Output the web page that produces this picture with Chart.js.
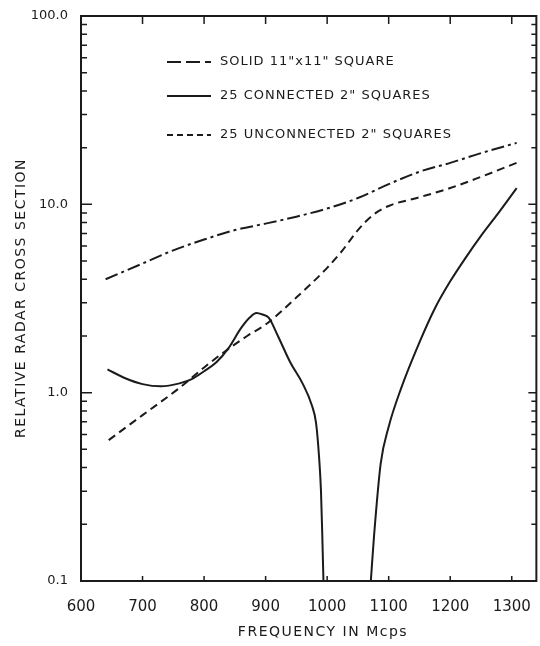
<!DOCTYPE html>
<html>
<head>
<meta charset="utf-8">
<script src="https://cdn.jsdelivr.net/npm/chart.js@4"></script>
<style>
  html, body { margin: 0; padding: 0; background: #fff; }
  #wrap { width: 540px; height: 646px; }
</style>
</head>
<body>
<div id="wrap"><canvas id="rcsChart" width="540" height="646"></canvas></div>
<script>
// frequency axis (Mcps) and log axis ticks
const xTicks = [600, 700, 800, 900, 1000, 1100, 1200, 1300];
const yTicks = [0.1, 1, 10, 100];
const yTickText = ['0.1', '1.0', '10.0', '100.0'];

// solid 11" x 11" square (dash-dot)
const solidFreq = [640, 700, 750, 800, 850, 900, 950, 1000, 1050, 1100, 1150, 1200, 1250, 1308];
const solidRcs  = [4.0, 4.85, 5.7, 6.5, 7.3, 7.9, 8.6, 9.5, 10.8, 12.8, 14.9, 16.6, 18.7, 21.2];

// 25 connected 2" squares (solid, two branches either side of the null)
const connFreqA = [643, 670, 700, 730, 760, 780, 800, 820, 840, 860, 875, 885, 895, 905, 920, 940, 960, 975, 982, 987, 990, 992, 994];
const connRcsA  = [1.33, 1.2, 1.11, 1.08, 1.12, 1.18, 1.3, 1.45, 1.73, 2.2, 2.52, 2.65, 2.6, 2.5, 2.0, 1.45, 1.12, 0.86, 0.69, 0.45, 0.3, 0.18, 0.1];
const connFreqB = [1071, 1076, 1087, 1100, 1120, 1150, 1175, 1200, 1225, 1250, 1275, 1308];
const connRcsB  = [0.1, 0.17, 0.42, 0.66, 1.05, 1.85, 2.8, 3.9, 5.2, 6.8, 8.7, 12.2];

// 25 unconnected 2" squares (dashed)
const unconFreq = [645, 700, 760, 800, 830, 870, 900, 950, 1000, 1025, 1050, 1075, 1100, 1150, 1200, 1250, 1308];
const unconRcs  = [0.56, 0.76, 1.06, 1.36, 1.62, 2.0, 2.3, 3.2, 4.6, 5.7, 7.3, 8.8, 9.8, 10.9, 12.2, 14.0, 16.6];

const ink = '#1b1b1b';
const dashDot = [13, 4, 3, 4];
const dashed = [8, 5];

function pts(xs, ys) {
    return xs.map((x, i) => ({ x: x, y: ys[i] }));
}

function lineSet(label, xs, ys, dash) {
    return {
        label: label,
        data: pts(xs, ys),
        borderColor: ink,
        borderWidth: 2,
        borderDash: dash,
        pointRadius: 0,
        cubicInterpolationMode: 'monotone',
        fill: false
    };
}

// frame, inward ticks, legend and axis titles
const decorations = {
    id: 'decorations',
    afterDraw(chart) {
        const { ctx, chartArea: a, scales: { x, y } } = chart;
        ctx.save();
        ctx.strokeStyle = ink;
        ctx.lineWidth = 2;
        ctx.strokeRect(a.left, a.top, a.right - a.left, a.bottom - a.top);

        ctx.lineWidth = 1.5;
        ctx.beginPath();
        xTicks.forEach(v => {
            if (v === x.min) return;
            const px = x.getPixelForValue(v);
            ctx.moveTo(px, a.bottom); ctx.lineTo(px, a.bottom - 5);
            ctx.moveTo(px, a.top); ctx.lineTo(px, a.top + 8);
        });
        [0.1, 1, 10].forEach(d => {
            for (let m = 1; m <= 9; m++) {
                if (d === 0.1 && m === 1) continue;
                const py = y.getPixelForValue(d * m);
                ctx.moveTo(a.left, py); ctx.lineTo(a.left + (m === 1 ? 11 : 6), py);
                ctx.moveTo(a.right, py); ctx.lineTo(a.right - (m === 1 ? 8 : 5), py);
            }
        });
        ctx.stroke();

        // legend
        const items = [
            { text: 'SOLID 11"x11" SQUARE', dash: [14, 5], dy: 46 },
            { text: '25 CONNECTED 2" SQUARES', dash: [], dy: 80 },
            { text: '25 UNCONNECTED 2" SQUARES', dash: [6, 4], dy: 119 }
        ];
        ctx.font = '13px "DejaVu Sans"';
        ctx.letterSpacing = '1px';
        ctx.fillStyle = ink;
        ctx.textBaseline = 'middle';
        ctx.textAlign = 'left';
        items.forEach(it => {
            const ly = a.top + it.dy;
            ctx.beginPath();
            ctx.setLineDash(it.dash);
            ctx.lineWidth = 2;
            ctx.moveTo(a.left + 86, ly);
            ctx.lineTo(a.left + 130, ly);
            ctx.stroke();
            ctx.fillText(it.text, a.left + 139, ly);
        });
        ctx.setLineDash([]);

        // axis titles
        ctx.font = '14px "DejaVu Sans"';
        ctx.letterSpacing = '1.5px';
        ctx.textAlign = 'center';
        ctx.fillText('FREQUENCY IN Mcps', 323, 632);
        ctx.translate(21, 298);
        ctx.rotate(-Math.PI / 2);
        ctx.fillText('RELATIVE RADAR CROSS SECTION', 0, 0);
        ctx.restore();
    }
};

const ctx = document.getElementById('rcsChart').getContext('2d');
new Chart(ctx, {
    type: 'line',
    data: {
        datasets: [
            lineSet('SOLID 11"x11" SQUARE', solidFreq, solidRcs, dashDot),
            lineSet('25 CONNECTED 2" SQUARES', connFreqA, connRcsA, []),
            lineSet('25 CONNECTED 2" SQUARES', connFreqB, connRcsB, []),
            lineSet('25 UNCONNECTED 2" SQUARES', unconFreq, unconRcs, dashed)
        ]
    },
    options: {
        responsive: false,
        animation: false,
        layout: { padding: { top: 16, right: 3, left: 0, bottom: 0 } },
        plugins: {
            legend: { display: false },
            tooltip: { enabled: false }
        },
        scales: {
            x: {
                type: 'linear',
                min: 600,
                max: 1340,
                grid: { display: false },
                border: { display: false },
                afterBuildTicks: s => { s.ticks = xTicks.map(v => ({ value: v })); },
                afterFit: s => { s.height = 65; },
                ticks: {
                    padding: 9,
                    color: ink,
                    font: { family: 'DejaVu Sans', size: 15 },
                    callback: v => String(v)
                }
            },
            y: {
                type: 'logarithmic',
                min: 0.1,
                max: 100,
                grid: { display: false },
                border: { display: false },
                afterBuildTicks: s => { s.ticks = yTicks.map(v => ({ value: v })); },
                afterFit: s => { s.width = 81; },
                ticks: {
                    padding: 5,
                    color: ink,
                    font: { family: 'DejaVu Sans', size: 13 },
                    callback: v => yTickText[yTicks.indexOf(v)]
                }
            }
        }
    },
    plugins: [decorations]
});
</script>
</body>
</html>
